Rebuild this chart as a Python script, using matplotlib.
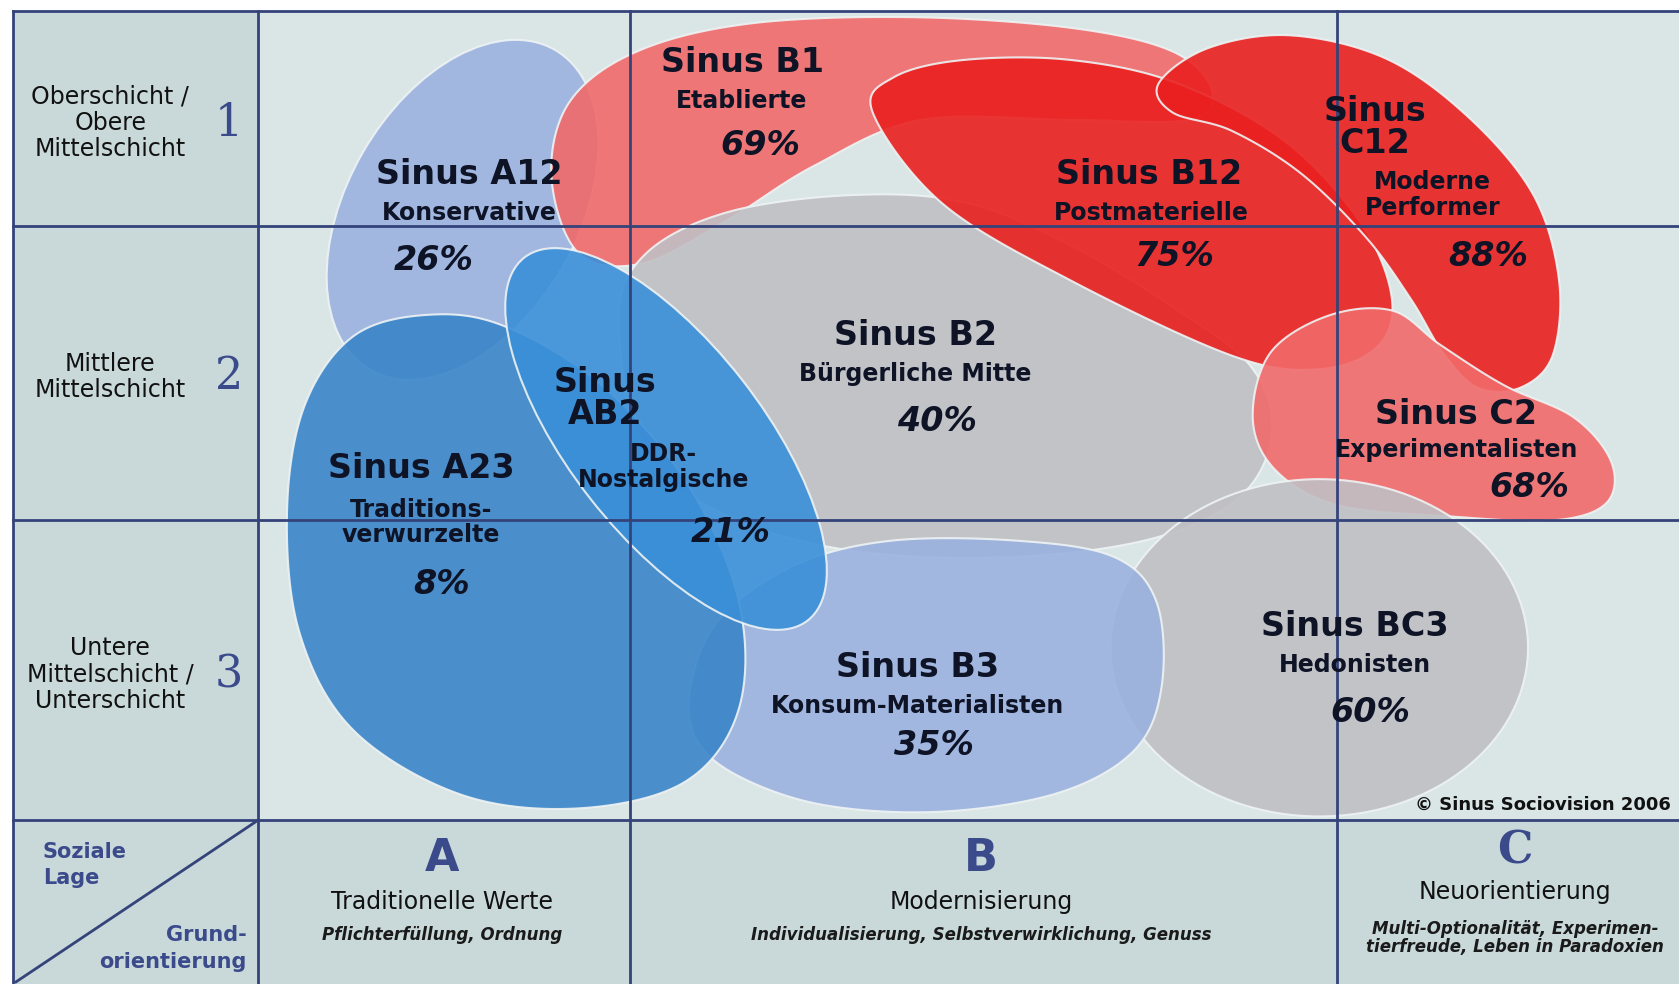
import numpy as np
import matplotlib
matplotlib.use("Agg")
import matplotlib.pyplot as plt
from matplotlib.patches import Polygon, Ellipse, Rectangle

# --- data -------------------------------------------------------------
codes = ["Sinus A12", "Sinus B1", "Sinus B12", "Sinus\nC12", "Sinus B2",
         "Sinus\nAB2", "Sinus A23", "Sinus C2", "Sinus B3", "Sinus BC3"]
names = ["Konservative", "Etablierte", "Postmaterielle", "Moderne\nPerformer",
         "Bürgerliche Mitte", "DDR-\nNostalgische", "Traditions-\nverwurzelte",
         "Experimentalisten", "Konsum-Materialisten", "Hedonisten"]
shares = [26, 69, 75, 88, 40, 21, 8, 68, 35, 60]

row_labels = ["Oberschicht /\nObere\nMittelschicht", "Mittlere\nMittelschicht",
              "Untere\nMittelschicht /\nUnterschicht"]
row_numbers = ["1", "2", "3"]
col_letters = ["A", "B", "C"]
col_titles = ["Traditionelle Werte", "Modernisierung", "Neuorientierung"]
col_subtitles = ["Pflichterfüllung, Ordnung",
                 "Individualisierung, Selbstverwirklichung, Genuss",
                 "Multi-Optionalität, Experimen-\ntierfreude, Leben in Paradoxien"]

# --- layout (diagram units, y downwards) ---------------------------------
W, H = 1568, 919
col_x = [12, 241, 588, 1249]
row_y = [10, 211, 486, 766]

blue_l = "#9bb2df"
salmon = "#f16a6a"
red = "#ea2020"
grey = "#c0c0c4"
blue_d = "#3a86c9"
blue_m = "#3a8fd8"

# shapes: ('e', cx, cy, w, h, angle) or ('p', control points)
shapes = {
    "Sinus A12": ("e", 432, 196, 345, 215, -60),
    "Sinus B1": ("p", [(515, 165), (532, 95), (595, 48), (700, 22), (850, 16),
                       (1000, 26), (1095, 48), (1132, 85), (1110, 112), (1000, 112),
                       (860, 112), (760, 155), (680, 205), (600, 246), (540, 236)]),
    "Sinus B2": ("p", [(578, 300), (602, 238), (680, 198), (800, 182), (905, 190),
                       (1005, 232), (1100, 290), (1168, 342), (1188, 402), (1160, 462),
                       (1080, 502), (950, 520), (800, 515), (680, 482), (602, 420)]),
    "Sinus B12": ("p", [(815, 105), (835, 72), (900, 56), (1000, 56), (1100, 78),
                        (1200, 132), (1272, 210), (1300, 280), (1285, 325), (1230, 345),
                        (1150, 332), (1000, 262), (880, 190)]),
    "Sinus\nC12": ("p", [(1082, 78), (1128, 45), (1205, 33), (1295, 55), (1372, 110),
                         (1432, 182), (1456, 262), (1450, 332), (1420, 362), (1380, 362),
                         (1348, 330), (1318, 280), (1276, 222), (1215, 162), (1150, 122),
                         (1095, 105)]),
    "Sinus C2": ("p", [(1170, 392), (1186, 330), (1240, 295), (1300, 290), (1345, 322),
                       (1405, 360), (1470, 390), (1505, 432), (1500, 470), (1450, 486),
                       (1350, 482), (1250, 472), (1192, 440)]),
    "Sinus BC3": ("e", 1232, 605, 390, 315, 0),
    "Sinus B3": ("p", [(645, 640), (672, 578), (742, 528), (832, 505), (950, 505),
                       (1040, 520), (1080, 562), (1085, 640), (1060, 700), (990, 740),
                       (880, 758), (770, 752), (690, 725), (650, 690)]),
    "Sinus A23": ("p", [(268, 480), (284, 380), (330, 314), (400, 294), (472, 305),
                        (562, 360), (642, 452), (690, 562), (690, 662), (640, 730),
                        (540, 755), (430, 742), (330, 682), (280, 592)]),
    "Sinus\nAB2": ("e", 622, 410, 430, 180, 52),
}
colors = {"Sinus A12": blue_l, "Sinus B1": salmon, "Sinus B2": grey, "Sinus B12": red,
          "Sinus\nC12": red, "Sinus C2": salmon, "Sinus BC3": grey, "Sinus B3": blue_l,
          "Sinus A23": blue_d, "Sinus\nAB2": blue_m}

# label anchor (x, y of code, y of name, y of share, x offset of name, x offset of share)
label_pos = {
    "Sinus A12": (438, 163, 199, 243, 0, -33),
    "Sinus B1": (693, 58, 94, 136, 0, 17),
    "Sinus B12": (1073, 163, 199, 240, 2, 24),
    "Sinus\nC12": (1284, 119, 182, 240, 54, 106),
    "Sinus B2": (855, 313, 349, 394, 0, 20),
    "Sinus\nAB2": (565, 372, 436, 497, 55, 117),
    "Sinus A23": (393, 438, 488, 546, 0, 19),
    "Sinus C2": (1360, 387, 420, 455, 0, 68),
    "Sinus B3": (857, 623, 659, 696, 0, 15),
    "Sinus BC3": (1265, 585, 621, 665, 0, 15),
}


def smooth_closed(pts, n=24):
    P = np.asarray(pts, float)
    m = len(P)
    t = np.linspace(0, 1, n, endpoint=False)[:, None]
    out = []
    for i in range(m):
        p0, p1, p2, p3 = P[i - 1], P[i], P[(i + 1) % m], P[(i + 2) % m]
        out.append(0.5 * (2 * p1 + (-p0 + p2) * t + (2 * p0 - 5 * p1 + 4 * p2 - p3) * t ** 2
                          + (-p0 + 3 * p1 - 3 * p2 + p3) * t ** 3))
    return np.vstack(out)


fig = plt.figure(figsize=(16.79, 9.84), dpi=100)
ax = fig.add_axes([0, 0, 1, 1])
ax.set_xlim(0, W)
ax.set_ylim(H, 0)
ax.axis("off")

head_bg = "#c9d9da"
main_bg = "#dae5e5"
line_c = "#34437a"
navy = "#3b4a8a"
txt = "#0e1326"

ax.add_patch(Rectangle((col_x[0], row_y[0]), col_x[1] - col_x[0], H - row_y[0],
                       facecolor=head_bg, edgecolor="none", zorder=0))
ax.add_patch(Rectangle((col_x[1], row_y[3]), W - col_x[1], H - row_y[3],
                       facecolor=head_bg, edgecolor="none", zorder=0))
ax.add_patch(Rectangle((col_x[1], row_y[0]), W - col_x[1], row_y[3] - row_y[0],
                       facecolor=main_bg, edgecolor="none", zorder=0))

# blobs
for z, code in enumerate(shapes):
    s = shapes[code]
    if s[0] == "e":
        patch = Ellipse((s[1], s[2]), s[3], s[4], angle=s[5])
    else:
        patch = Polygon(smooth_closed(s[1]), closed=True)
    patch.set_facecolor(colors[code])
    patch.set_alpha(0.9)
    patch.set_edgecolor("#eef3f4")
    patch.set_linewidth(1.5)
    patch.set_zorder(2 + z * 0.1)
    ax.add_patch(patch)

# grid lines on top
for x in col_x:
    ax.plot([x, x], [row_y[0], H], color=line_c, lw=2, zorder=5)
for y in row_y:
    ax.plot([col_x[0], W], [y, y], color=line_c, lw=2, zorder=5)
ax.plot([15, col_x[1]], [917, row_y[3]], color=line_c, lw=2, zorder=5)

# milieu labels
for code, name, share in zip(codes, names, shares):
    x, y1, y2, y3, dxn, dxs = label_pos[code]
    ax.text(x, y1, code, ha="center", va="center", fontsize=24, fontweight="bold",
            color=txt, linespacing=0.97, zorder=6)
    ax.text(x + dxn, y2, name, ha="center", va="center", fontsize=17,
            fontweight="bold", color=txt, linespacing=1.08, zorder=6)
    ax.text(x + dxs, y3, f"{share}%", ha="center", va="center", fontsize=24,
            fontweight="bold", fontstyle="italic", color=txt, zorder=6)

# row headers
row_cy = [115, 352, 630]
for lab, num, cy in zip(row_labels, row_numbers, row_cy):
    ax.text(103, cy, lab, ha="center", va="center", fontsize=17, color="#111111",
            linespacing=1.12, zorder=6)
    ax.text(214, cy, num, ha="center", va="center", fontsize=32, family="DejaVu Serif",
            color=navy, zorder=6)

ax.text(40, 808, "Soziale\nLage", ha="left", va="center", fontsize=15,
        fontweight="bold", color=navy, linespacing=1.4, zorder=6)
ax.text(230, 886, "Grund-\norientierung", ha="right", va="center", fontsize=15,
        fontweight="bold", color=navy, linespacing=1.4, zorder=6)

# column headers
col_cx = [413, 916, 1415]
letter_y = [802, 802, 795]
title_y = [842, 842, 833]
sub_y = [873, 873, 876]
for i in range(3):
    ax.text(col_cx[i], letter_y[i], col_letters[i], ha="center", va="center",
            fontsize=32, fontweight="bold", color=navy,
            family="DejaVu Serif" if i == 2 else "DejaVu Sans", zorder=6)
    ax.text(col_cx[i], title_y[i], col_titles[i], ha="center", va="center",
            fontsize=17, color="#111111", zorder=6)
    ax.text(col_cx[i], sub_y[i], col_subtitles[i], ha="center", va="center",
            fontsize=12, fontstyle="italic", fontweight="bold", color="#1a1a1a",
            linespacing=1.0, zorder=6)

ax.text(1321, 752, "© Sinus Sociovision 2006", ha="left", va="center", fontsize=13,
        fontweight="bold", color="#111111", zorder=6)

fig.savefig("out.png", dpi=100)
